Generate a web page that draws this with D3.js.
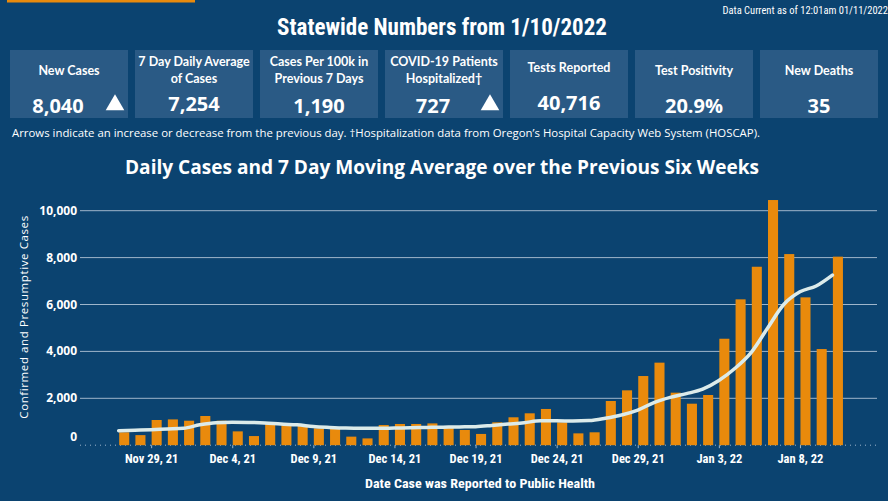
<!DOCTYPE html>
<html><head><meta charset="utf-8">
<script src="https://cdn.jsdelivr.net/npm/d3@7"></script>
<style>html,body{margin:0;padding:0;background:#0b4370;} svg{display:block;}</style>
</head><body><svg id="c" width="888" height="501"></svg>
<script>
// ---------- DATA ----------
const headerTitle = "Statewide Numbers from 1/10/2022";
const dataCurrent = "Data Current as of 12:01am 01/11/2022";
const cardTitles = [["New Cases"],["7 Day Daily Average","of Cases"],["Cases Per 100k in","Previous 7 Days"],["COVID-19 Patients","Hospitalized†"],["Tests Reported"],["Test Positivity"],["New Deaths"]];
const cardValues = ["8,040","7,254","1,190","727","40,716","20.9%","35"];
const cardArrows = [true,false,false,true,false,false,false];
const noteText = "Arrows indicate an increase or decrease from the previous day. †Hospitalization data from Oregon’s Hospital Capacity Web System (HOSCAP).";
const chartTitle = "Daily Cases and 7 Day Moving Average over the Previous Six Weeks";
const yAxisTitle = "Confirmed and Presumptive Cases";
const xAxisTitle = "Date Case was Reported to Public Health";

const dates = ["2021-11-27","2021-11-28","2021-11-29","2021-11-30","2021-12-01","2021-12-02","2021-12-03","2021-12-04","2021-12-05","2021-12-06","2021-12-07",
"2021-12-08","2021-12-09","2021-12-10","2021-12-11","2021-12-12","2021-12-13","2021-12-14","2021-12-15","2021-12-16","2021-12-17","2021-12-18","2021-12-19","2021-12-20","2021-12-21","2021-12-22","2021-12-23","2021-12-24","2021-12-25",
"2021-12-26","2021-12-27","2021-12-28","2021-12-29","2021-12-30","2021-12-31","2022-01-01","2022-01-02","2022-01-03","2022-01-04","2022-01-05","2022-01-06","2022-01-07","2022-01-08","2022-01-09","2022-01-10"];
const dailyCases = [550,430,1075,1100,1045,1245,1045,590,390,930,860,
820,720,720,365,290,860,905,905,930,820,650,480,975,1190,1360,1545,975,505,
550,1885,2340,2950,3520,2240,1770,2140,4540,6220,7610,10455,8150,6305,4100,8040];
const movingAvg = [620,640,660,690,720,870,960,975,970,950,900,
870,800,760,730,720,720,730,740,760,770,780,790,840,900,960,1040,1040,1030,
1050,1150,1290,1500,1820,2040,2200,2390,2760,3280,3960,4990,6000,6540,6790,7254];
const xTickDates = ["2021-11-29","2021-12-04","2021-12-09","2021-12-14","2021-12-19","2021-12-24","2021-12-29","2022-01-03","2022-01-08"];
const yTicks = [0,2000,4000,6000,8000,10000];

// ---------- STYLE ----------
const BG = "#0b4370", CARD = "#2a5a85", ORANGE = "#e98a0c", LINE = "#dcebea", GRID = "#9fb6cb";
const NARROW = "'Liberation Sans Narrow','Arial Narrow','Roboto Condensed',sans-serif";
const svg = d3.select("#c");
svg.append("rect").attr("width",888).attr("height",501).attr("fill",BG);
svg.append("rect").attr("x",7).attr("y",0).attr("width",188).attr("height",2.5).attr("fill",ORANGE);

svg.append("text").attr("x",888).attr("y",14).attr("text-anchor","end")
  .attr("fill","#fff").attr("font-family",NARROW).attr("font-size",10.5).text(dataCurrent);
svg.append("text").attr("x",442).attr("y",35).attr("text-anchor","middle")
  .attr("fill","#fff").attr("font-family",NARROW).attr("font-weight","bold").attr("font-size",23).text(headerTitle);

// cards
const cardX = d3.scaleLinear().domain([0,6]).range([10,760]);
const cw = 118, cy = 50, ch = 68;
const cards = svg.selectAll("g.card").data(cardValues).join("g").attr("class","card")
  .attr("transform",(d,i)=>`translate(${cardX(i)},${cy})`);
cards.append("rect").attr("width",cw).attr("height",ch).attr("fill",CARD);
cards.each(function(v,i){
  const g = d3.select(this);
  const lines = cardTitles[i];
  const titleY = lines.length===2 ? [16,33] : [i===4?22:25];
  lines.forEach((t,k)=>g.append("text").attr("x",cw/2).attr("y",titleY[k]).attr("text-anchor","middle")
    .attr("fill","#fff").attr("font-family","Lato,sans-serif").attr("font-weight","bold").attr("font-size",12.5).text(t));
  const vy = i===1?61:(i===4?60:63);
  const vx = cardArrows[i] ? 48 : cw/2;
  g.append("text").attr("x",vx).attr("y",vy).attr("text-anchor","middle").attr("fill","#fff")
    .attr("font-family","'Open Sans',sans-serif").attr("font-weight","bold").attr("font-size",20).text(v);
  if(cardArrows[i]){
    g.append("path").attr("d",d3.symbol(d3.symbolTriangle,150)()).attr("fill","#fff")
      .attr("transform",`translate(${105},${55})`);
  }
});
svg.append("text").attr("x",12).attr("y",137).attr("fill","#fff")
  .attr("font-family","'Open Sans',sans-serif").attr("font-size",11).attr("textLength",748).attr("lengthAdjust","spacingAndGlyphs").text(noteText);

svg.append("text").attr("x",442).attr("y",174).attr("text-anchor","middle").attr("fill","#fff")
  .attr("font-family","'Open Sans',sans-serif").attr("font-weight","bold").attr("font-size",19)
  .attr("textLength",634).attr("lengthAdjust","spacingAndGlyphs").text(chartTitle);

// ---------- CHART ----------
const parse = d3.timeParse("%Y-%m-%d");
const data = dates.map((d,i)=>({date:parse(d), cases:dailyCases[i], avg:movingAvg[i]}));
const x = d3.scaleTime().domain([parse(dates[0]), parse(dates[dates.length-1])]).range([118.7, 832.4]);
const y = d3.scaleLinear().domain([0,10000]).range([445.2,210.7]);
const dayW = x(parse(dates[1])) - x(parse(dates[0]));
const barW = dayW*0.62;

// grid
svg.append("g").selectAll("line").data(yTicks.filter(t=>t>0)).join("line")
  .attr("x1",80).attr("x2",877).attr("y1",d=>y(d)).attr("y2",d=>y(d))
  .attr("stroke",GRID).attr("stroke-width",1);
svg.append("line").attr("x1",80).attr("x2",877).attr("y1",y(0)).attr("y2",y(0))
  .attr("stroke",GRID).attr("stroke-width",1).attr("stroke-dasharray","1,4");
// y labels
svg.append("g").selectAll("text").data(yTicks).join("text")
  .attr("x",77).attr("y",d=>y(d)+(d===0?-4:4)).attr("text-anchor","end").attr("fill","#fff")
  .attr("font-family","'Open Sans',sans-serif").attr("font-weight","bold").attr("font-size",12)
  .text(d=>d3.format(",")(d));
svg.append("text").attr("transform","translate(28,317) rotate(-90)").attr("text-anchor","middle")
  .attr("fill","#fff").attr("font-family","'Open Sans',sans-serif").attr("font-size",11.5).attr("letter-spacing",0.6).text(yAxisTitle);

// bars
svg.append("g").selectAll("rect").data(data).join("rect")
  .attr("x",d=>x(d.date)+dayW*0.34-barW/2).attr("width",barW)
  .attr("y",d=>y(d.cases)).attr("height",d=>y(0)-y(d.cases)).attr("fill",ORANGE);

// line
svg.append("path").datum(data).attr("fill","none").attr("stroke",LINE).attr("stroke-width",3.5)
  .attr("stroke-linejoin","round").attr("stroke-linecap","round")
  .attr("d",d3.line().x(d=>x(d.date)).y(d=>y(d.avg)).curve(d3.curveMonotoneX));

// x axis
const xAxis = d3.axisBottom(x).tickValues(xTickDates.map(parse)).tickFormat(d3.timeFormat("%b %-d, %y")).tickSize(3).tickPadding(6);
const gx = svg.append("g").attr("transform",`translate(0,${y(0)})`).call(xAxis);
gx.select(".domain").remove();
gx.selectAll(".tick line").attr("stroke",GRID);
gx.selectAll(".tick text").attr("fill","#fff").attr("font-family",NARROW).attr("font-weight","bold").attr("font-size",12.5);
svg.append("text").attr("x",480).attr("y",488).attr("text-anchor","middle").attr("fill","#fff")
  .attr("font-family",NARROW).attr("font-weight","bold").attr("font-size",13.5)
  .attr("textLength",230).attr("lengthAdjust","spacingAndGlyphs").text(xAxisTitle);
</script></body></html>
